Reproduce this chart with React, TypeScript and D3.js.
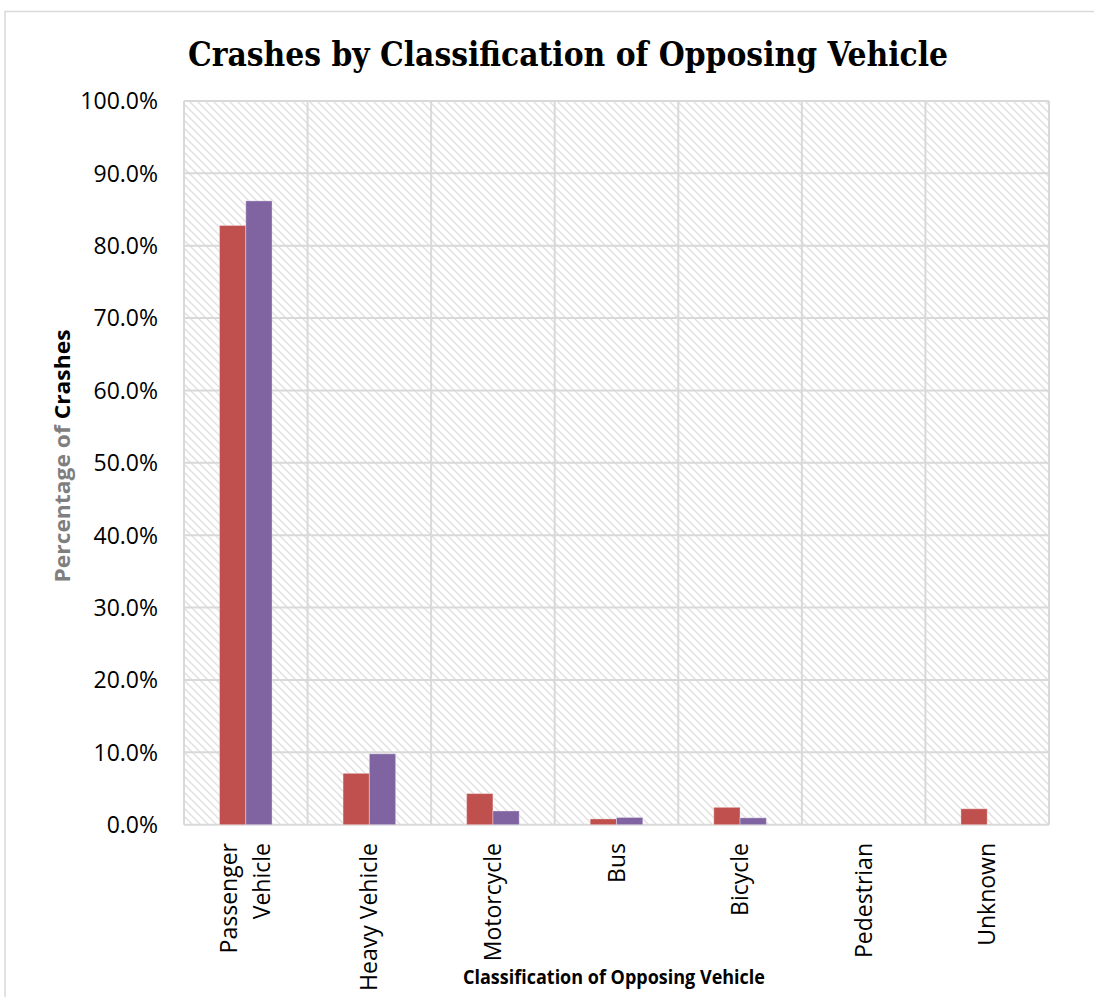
import React from "react";
import * as d3 from "d3";

const categories = ["Passenger Vehicle", "Heavy Vehicle", "Motorcycle", "Bus", "Bicycle", "Pedestrian", "Unknown"];
const categoryLines = [["Passenger", "Vehicle"], ["Heavy Vehicle"], ["Motorcycle"], ["Bus"], ["Bicycle"], ["Pedestrian"], ["Unknown"]];
const seriesNames = ["Series 1", "Series 2"];
const series1Values = [82.8, 7.1, 4.3, 0.8, 2.4, 0, 2.2];
const series2Values = [86.2, 9.8, 1.9, 1.0, 0.95, 0, 0];
const seriesColors = ["#C0504D", "#8064A2"];
const yTicks = [0, 10, 20, 30, 40, 50, 60, 70, 80, 90, 100];

export default function App() {
  const W = 1094, H = 997;
  const left = 184, right = 1049, top = 101, bottom = 824.7;
  const x = d3.scaleBand<string>().domain(categories).range([left, right]).padding(0);
  const x1 = d3.scaleBand<string>().domain(seriesNames).range([0, x.bandwidth()]).paddingInner(0).paddingOuter(1.35);
  const y = d3.scaleLinear().domain([0, 100]).range([bottom, top]);
  const valuesBySeries = [series1Values, series2Values];
  const grid = "#D9D9D9";
  const sans = "'Open Sans', sans-serif";

  return (
    <svg width={W} height={H} style={{ position: "absolute", left: 0, top: 0, background: "#fff" }}>
      <defs>
        <pattern id="hatch" patternUnits="userSpaceOnUse" width={8} height={8}>
          <rect width={8} height={8} fill="#fff" />
          <path d="M-2,-2 L10,10 M-2,6 L2,10 M6,-2 L10,2" stroke="#E0E0E0" strokeWidth={1.4} />
        </pattern>
      </defs>
      <rect x={0} y={0} width={W} height={H} fill="#fff" />
      <rect x={5} y={11.5} width={W + 20} height={H + 20} fill="none" stroke="#D9D9D9" strokeWidth={1.5} />
      <text x={568} y={66} textAnchor="middle" fontFamily="'DejaVu Serif Condensed', 'DejaVu Serif', serif" fontWeight="bold" fontSize={34} textLength={760} lengthAdjust="spacingAndGlyphs" fill="#000">
        Crashes by Classification of Opposing Vehicle
      </text>
      <rect x={left} y={top} width={right - left} height={bottom - top} fill="url(#hatch)" />
      {yTicks.map((t) => (
        <line key={"h" + t} x1={left} x2={right} y1={y(t)} y2={y(t)} stroke={grid} strokeWidth={2} />
      ))}
      {categories.map((c) => (
        <line key={"v" + c} x1={x(c)!} x2={x(c)!} y1={top} y2={bottom} stroke={grid} strokeWidth={2} />
      ))}
      <line x1={right} x2={right} y1={top} y2={bottom} stroke={grid} strokeWidth={2} />
      {categories.map((c, i) =>
        seriesNames.map((s, j) => {
          const v = valuesBySeries[j][i];
          if (v <= 0) return null;
          return (
            <rect key={c + s} x={x(c)! + x1(s)!} y={y(v)} width={x1.bandwidth()} height={bottom - y(v)} fill={seriesColors[j]} stroke="#ffffff" strokeOpacity={0.35} strokeWidth={1} />
          );
        })
      )}
      {yTicks.map((t) => (
        <text key={"yt" + t} x={158} y={y(t)} dy="0.36em" textAnchor="end" fontFamily={sans} fontSize={23} fill="#000">
          {t.toFixed(1) + "%"}
        </text>
      ))}
      {categories.map((c, i) => {
        const cx = x(c)! + x.bandwidth() / 2;
        const lines = categoryLines[i];
        const spacing = 33;
        const base0 = 8 - ((lines.length - 1) * spacing) / 2;
        return (
          <g key={"xl" + c} transform={`translate(${cx},843) rotate(-90)`}>
            {lines.map((ln, k) => (
              <text key={k} x={0} y={base0 + k * spacing} textAnchor="end" fontFamily={sans} fontSize={23} fill="#000">
                {ln}
              </text>
            ))}
          </g>
        );
      })}
      <text x={614} y={984} textAnchor="middle" fontFamily={sans} fontWeight="bold" fontSize={19} textLength={302} lengthAdjust="spacingAndGlyphs" fill="#000">
        Classification of Opposing Vehicle
      </text>
      <text transform="translate(70,456) rotate(-90)" textAnchor="middle" fontFamily={sans} fontWeight="bold" fontSize={21} textLength={253} lengthAdjust="spacingAndGlyphs">
        <tspan fill="#7F7F7F">Percentage  of </tspan>
        <tspan fill="#000">Crashes</tspan>
      </text>
    </svg>
  );
}
